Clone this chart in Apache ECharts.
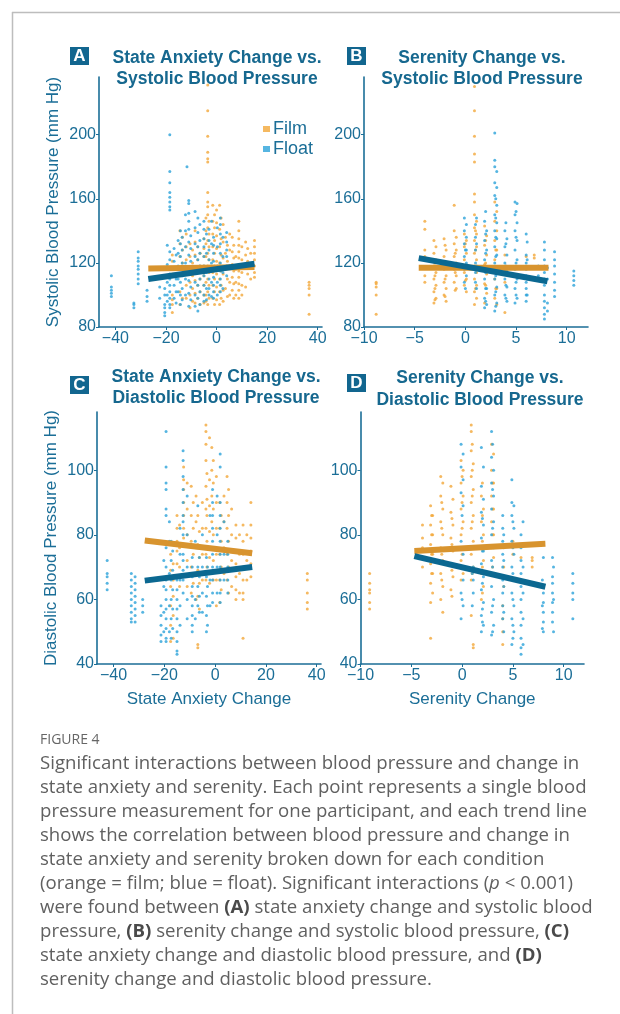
<!DOCTYPE html>
<html>
<head>
<meta charset="utf-8">
<script src="https://cdn.jsdelivr.net/npm/echarts@6/dist/echarts.min.js"></script>
<style>
  html, body { margin: 0; padding: 0; background: #fff; }
  #chart { width: 620px; height: 1014px; }
</style>
</head>
<body>
<div id="chart"></div>
<script>
// columns of points: [x, [y, y, ...]]
// A: state anxiety change vs systolic
const aFilm = [
  [-17.5, [125, 121, 117, 113, 100, 97, 94, 89]],
  [-14.5, [140, 132, 124, 102, 94]],
  [-13.5, [136, 128, 120, 98]],
  [-12, [138, 130, 122, 114, 106, 98]],
  [-10.5, [132, 124, 116, 108, 100, 92]],
  [-9.5, [128, 120, 112, 104, 96]],
  [-8.5, [140, 133, 125, 117, 109, 101, 95]],
  [-7.5, [130, 122, 114, 106, 98]],
  [-6.5, [126, 118, 110, 102, 94]],
  [-5, [135, 129, 124, 118, 112, 106, 100, 95]],
  [-4.2, [148, 140, 132, 124, 116, 108, 100, 96]],
  [-3.5, [231, 215, 199, 189, 185, 183, 164, 158, 155, 150, 142, 134, 126, 118, 110, 102, 94]],
  [-3, [146, 138, 130, 122, 114, 106, 98]],
  [-1.5, [156, 146, 138, 130, 122, 114, 106, 98]],
  [-0.8, [150, 142, 134, 126, 118, 110, 102, 94]],
  [0, [153, 145, 137, 129, 121, 113, 105, 97]],
  [1.2, [156, 141, 130, 120, 110, 102, 94]],
  [1.8, [148, 135, 125, 115, 106, 98]],
  [2.6, [144, 133, 123, 113, 103, 96]],
  [3.5, [136, 126, 116, 104]],
  [4.3, [131, 121, 110, 99]],
  [5.2, [138, 128, 118, 108, 100]],
  [6.2, [136, 127, 119, 111, 103]],
  [6.8, [131, 123, 115, 107, 98]],
  [7.6, [124, 116, 108, 100]],
  [8.8, [146, 140, 135, 131, 127, 123, 119, 115, 111, 107, 103, 98]],
  [10, [130, 122, 114, 106, 100]],
  [11.5, [133, 125, 117, 105]],
  [12.3, [129, 121, 113]],
  [13.5, [126, 118, 110]],
  [15, [134, 130, 126, 122, 118, 114, 111]],
  [36.6, [108, 106, 104, 100, 88]]
];
const aFloat = [
  [-41.6, [112, 105, 103, 101, 99]],
  [-32.7, [95, 94, 92]],
  [-31, [127, 123, 121, 118, 116, 113, 110, 107]],
  [-27.5, [103, 99, 96]],
  [-22.5, [105, 98]],
  [-20.5, [104, 100, 94, 92, 89, 87]],
  [-19.5, [131, 119, 108, 100, 96]],
  [-18.5, [200, 177, 170, 164, 161, 158, 155, 153, 127, 122, 117, 113, 110, 106, 102, 98, 94, 92]],
  [-16.8, [129, 121, 113, 106, 98]],
  [-16, [125, 117, 110, 102, 95]],
  [-15.2, [134, 126, 118, 110, 102]],
  [-14.3, [140, 132, 124, 116, 108, 100, 94]],
  [-13.6, [136, 128, 120, 112, 104, 97]],
  [-12.3, [150, 140, 130, 120, 110, 100]],
  [-11.7, [180]],
  [-11, [159, 157, 151, 146, 141, 133, 125, 117, 109, 101, 93]],
  [-10.2, [137, 129, 121, 113, 105, 97]],
  [-8.5, [152, 142, 132, 124, 116, 108, 100, 93]],
  [-7.4, [148, 139, 130, 122, 114, 106, 98, 90]],
  [-6.6, [144, 134, 126, 118, 110, 102, 94]],
  [-5, [146, 141, 135, 130, 124, 118, 112, 106, 100, 96]],
  [-4, [138, 126, 114, 104, 97]],
  [-3, [141, 134, 128, 122, 116, 110, 104, 100]],
  [-2, [146, 132, 120, 108, 99]],
  [-1.2, [136, 131, 126, 121, 116, 111, 106, 102, 98]],
  [0.3, [142, 130, 118, 108, 100]],
  [1.5, [148, 144, 138, 132, 126, 120, 115, 110, 106, 102]],
  [2.5, [136, 124, 114, 104]],
  [4, [139, 133, 128, 124, 118, 112]]
];
// B: serenity change vs systolic
const bFilm = [
  [-8.8, [108, 107, 105, 100, 88]],
  [-4, [146, 141, 128, 124, 117, 112, 108]],
  [-3.1, [134, 126, 118, 110, 102, 95]],
  [-3, [120, 112, 104, 97]],
  [-2.9, [130, 122, 114, 106, 98]],
  [-2.1, [135, 124, 116, 108, 100]],
  [-2, [131, 119, 110, 99]],
  [-1.9, [128, 120, 112, 104, 96]],
  [-1.1, [156, 140, 132, 124, 116, 108]],
  [-1, [126, 114, 103]],
  [-0.9, [136, 128, 120, 112, 104]],
  [-0.1, [138, 130, 122, 114, 106]],
  [0, [132, 118, 109]],
  [0.1, [134, 126, 118, 110, 102]],
  [0.9, [230, 215, 199, 188, 183, 163, 158, 150, 142, 134, 126, 118, 110, 102, 94]],
  [1, [140, 128, 116, 104]],
  [1.1, [146, 138, 130, 122, 114, 106, 98]],
  [1.9, [143, 131, 119, 107, 95]],
  [2, [134, 120, 106]],
  [2.1, [137, 125, 113, 101]],
  [2.9, [158, 146, 134, 122, 110, 98]],
  [3, [128, 116, 104]],
  [3.1, [152, 140, 128, 116, 104, 94]],
  [3.9, [125, 115, 108, 89]],
  [6, [124]],
  [6.8, [125, 123]]
];
const bFloat = [
  [-0.1, [148, 140, 132, 124, 116, 108]],
  [0, [128, 118, 104]],
  [0.1, [144, 136, 128, 120, 112]],
  [1, [144, 136, 128, 120, 114, 108]],
  [1.1, [148, 132, 118, 104]],
  [1.9, [146, 134, 122, 110, 98, 92]],
  [2, [152, 138, 126, 114, 104, 96]],
  [2.1, [140, 128, 116, 104, 94]],
  [2.9, [201, 184, 180, 170, 162, 150, 140, 130, 120, 110, 100, 90]],
  [3, [160, 148, 136, 124, 112, 102, 93]],
  [3.1, [177, 167, 156, 145, 135, 125, 115, 105, 95]],
  [3.9, [140, 130, 120, 110, 100]],
  [4, [145, 132, 118, 106, 98]],
  [4.1, [135, 125, 115, 105, 96]],
  [4.9, [158, 150, 140, 128, 116, 104, 95]],
  [5, [152, 136, 120, 108, 100]],
  [5.1, [157, 145, 134, 122, 110, 98]],
  [6, [138, 125, 120, 116, 112, 108, 104, 100, 96]],
  [6.1, [133, 122, 110, 100]],
  [7.2, [118, 112]],
  [7.8, [133, 128, 122, 118, 114, 110, 106, 100, 96, 92, 88, 85]],
  [8.1, [117, 110, 95, 90]],
  [8.8, [127, 122, 118, 113, 108, 103, 99]],
  [10.7, [115, 112, 109, 106]]
];
// C: state anxiety change vs diastolic
const cFilm = [
  [-17.5, [74, 69, 64, 58, 52, 47]],
  [-16.5, [71, 66, 61, 55, 48]],
  [-15, [86, 82, 78, 75, 71]],
  [-14, [83, 76, 70, 64]],
  [-12.4, [101, 97, 94, 90, 86, 82, 79]],
  [-11, [96, 88, 80, 72, 64]],
  [-9.4, [95, 86, 78, 70, 62]],
  [-8.6, [90, 82, 74, 65]],
  [-7.5, [92, 84, 76, 68, 60]],
  [-6.8, [86, 77, 69, 61, 46, 45]],
  [-6.2, [81, 73, 65, 57]],
  [-5, [90, 82, 74, 66]],
  [-3.6, [114, 112, 108, 103, 95, 88, 82, 74, 66]],
  [-3.2, [99, 91, 86, 78, 70]],
  [-2.2, [110, 97, 89, 81, 73, 65]],
  [-1.3, [107, 100, 92, 84, 76, 68]],
  [-0.7, [103, 96, 88, 80, 72, 66]],
  [0.5, [98, 90, 82, 74, 66, 58]],
  [1.8, [90, 82, 74, 66, 59]],
  [2.4, [86, 78, 70, 63]],
  [3.5, [92, 84, 76, 68]],
  [4.7, [98, 90, 82, 74, 66]],
  [5.3, [94, 86, 78, 70, 62]],
  [6.5, [88, 80, 72, 64]],
  [8.2, [83, 79, 75, 71, 67, 63, 60]],
  [9.6, [80, 74, 68, 62]],
  [11, [83, 78, 74, 70, 66, 62, 60, 48]],
  [12.5, [80, 72, 66]],
  [14.1, [90, 83, 79, 75, 71, 67]],
  [36.3, [68, 66, 62, 59, 57]]
];
const cFloat = [
  [-42.5, [72, 68, 67, 65, 63]],
  [-33, [68, 66, 64, 62, 60, 58, 56, 54, 53]],
  [-31.5, [67, 65, 63, 61, 59, 57, 55, 53]],
  [-28.5, [60, 58, 56]],
  [-21.3, [58, 55, 52, 49, 47]],
  [-20.2, [72, 64, 56, 50]],
  [-19.3, [112, 101, 96, 94, 88, 86, 76, 70, 66, 63, 60, 57, 54, 51, 48, 47]],
  [-18, [84, 78, 68, 58, 50]],
  [-17.3, [78, 72, 66, 60, 54, 48]],
  [-16.7, [75, 69, 63, 57, 51]],
  [-15, [66, 63, 60, 57, 54, 50, 47, 44, 43]],
  [-13.8, [82, 74, 66, 58, 52]],
  [-12.6, [106, 103, 98, 94, 90, 86, 84, 80, 77, 74, 72, 69, 66, 62]],
  [-11, [92, 80, 70, 60, 54]],
  [-9, [73, 70, 67, 64, 61, 58, 55, 52, 50]],
  [-7.8, [78, 68, 60, 54]],
  [-6.8, [89, 76, 70, 64, 58]],
  [-6.2, [73, 67, 61, 56]],
  [-5, [80, 70, 62, 56]],
  [-3.4, [73, 67, 61, 55, 50]],
  [-3, [70, 64, 58, 52]],
  [-2, [86, 76, 66, 58]],
  [-1, [94, 90, 86, 82, 78, 74, 70, 66, 62, 59]],
  [0.8, [92, 80, 70, 62]],
  [2, [105, 101, 90, 86, 82, 78, 74, 70, 66, 62, 59]],
  [3.5, [84, 74, 66]],
  [5, [78, 74, 70, 66, 62]]
];
// D: serenity change vs diastolic
const dFilm = [
  [-9.1, [68, 65, 63, 62, 59, 57]],
  [-3.9, [83, 79, 76, 73, 70]],
  [-3.1, [89, 83, 77, 71, 65, 59, 48]],
  [-3, [86, 80, 74, 68]],
  [-2.9, [86, 80, 74, 68, 62]],
  [-2.1, [98, 92, 84, 76, 68, 60]],
  [-2, [90, 82, 74, 66]],
  [-1.9, [96, 88, 80, 72, 64, 56]],
  [-1.1, [95, 87, 79, 71, 63]],
  [-1, [85, 77, 69, 61]],
  [-0.9, [91, 83, 75, 67]],
  [-0.1, [103, 96, 88, 80, 72, 66]],
  [0, [98, 90, 82, 74]],
  [0.1, [100, 92, 84, 76, 68]],
  [0.9, [114, 112, 106, 98, 90, 82, 74, 66, 55]],
  [1, [108, 100, 92, 84, 76, 68]],
  [1.1, [102, 94, 86, 78, 70, 46, 45]],
  [1.9, [92, 84, 76, 68, 60]],
  [2, [96, 86, 78, 70, 62]],
  [2.1, [88, 80, 72, 64]],
  [2.9, [108, 100, 92, 84, 76]],
  [3, [96, 88, 80, 70]],
  [3.1, [105, 96, 88, 80, 73]],
  [4, [58, 54, 50, 46]],
  [4.1, [76, 70, 64]],
  [5, [78, 74]],
  [5.8, [73]],
  [6.9, [73, 72, 70]]
];
const dFloat = [
  [-0.1, [108, 101, 93, 78, 70, 62, 54]],
  [0, [86, 70, 60]],
  [0.1, [105, 97, 89, 74, 66, 58]],
  [1, [76, 68, 58]],
  [1.1, [70, 66, 62]],
  [1.9, [107, 95, 87, 79, 71, 63, 55, 50]],
  [2, [85, 75, 65, 57, 53]],
  [2.1, [101, 91, 83, 75, 67, 59, 52]],
  [2.9, [112, 104, 96, 88, 80, 72, 64, 56, 49]],
  [3, [108, 94, 82, 70, 58, 50]],
  [3.1, [100, 92, 84, 76, 68, 60, 52]],
  [4, [86, 82, 78, 74, 70, 66, 62, 58, 54]],
  [4.1, [80, 72, 64, 56, 50]],
  [4.9, [97, 90, 86, 78, 70, 62, 54, 46]],
  [5, [84, 76, 68, 60, 52, 48]],
  [5.1, [89, 82, 74, 66, 58, 50]],
  [5.8, [80, 76, 72, 68, 64, 60, 56, 52, 48, 45, 43]],
  [6, [84, 70, 62, 54, 46]],
  [7.9, [66, 58, 51]],
  [8, [73, 62, 59, 56, 53, 50]],
  [8.9, [73, 67, 65, 62, 59, 56, 53]],
  [9, [70, 60, 50]],
  [10.9, [68, 65, 62, 60, 54]]
];
// trend lines (end points)
const aFilmTrend = [[-27, 116.5], [15, 117.5]];
const aFloatTrend = [[-27, 110], [15, 119.5]];
const bFilmTrend = [[-4.6, 117], [8.2, 117]];
const bFloatTrend = [[-4.6, 123], [8.1, 108.5]];
const cFilmTrend = [[-27.7, 78.2], [14.6, 74.3]];
const cFloatTrend = [[-27.7, 65.8], [14.6, 70]];
const dFilmTrend = [[-4.7, 75], [8.2, 77.2]];
const dFloatTrend = [[-4.7, 73.4], [8.2, 63.9]];

const anxietyTicks = [-40, -20, 0, 20, 40];
const serenityTicks = [-10, -5, 0, 5, 10];
const systolicTicks = [80, 120, 160, 200];
const diastolicTicks = [40, 60, 80, 100];

const captionLines = [
  'Significant interactions between blood pressure and change in',
  'state anxiety and serenity. Each point represents a single blood',
  'pressure measurement for one participant, and each trend line',
  'shows the correlation between blood pressure and change in',
  'state anxiety and serenity broken down for each condition',
  '(orange = film; blue = float). Significant interactions ({i|p} < 0.001)',
  'were found between {b|(A)} state anxiety change and systolic blood',
  'pressure, {b|(B)} serenity change and systolic blood pressure, {b|(C)}',
  'state anxiety change and diastolic blood pressure, and {b|(D)}',
  'serenity change and diastolic blood pressure.'
];

const AX = '#1b6e97';
const TITLE = '#16688f';
const FILM = '#f2a73a';
const FLOAT = '#2ca2d9';
const FILM_LINE = '#d8942f';
const FLOAT_LINE = '#0b6891';
const FONT = 'Liberation Sans, Arial, sans-serif';
const CAP_FONT = 'Open Sans, sans-serif';
const CAP_SIZE = 18.6;

const expand = cols => cols.flatMap(([x, ys]) => ys.map(y => [x, y]));
const fmt = v => (v < 0 ? '\u2212' + Math.abs(v) : String(v));

function xAxis(idx, min, max, ticks, name) {
  return {
    type: 'value', gridIndex: idx, min: min, max: max,
    name: name || '', nameLocation: 'middle', nameGap: 27,
    nameTextStyle: { color: AX, fontSize: 17, fontFamily: FONT },
    axisLine: { show: true, onZero: false, lineStyle: { color: AX, width: 1.6 } },
    axisTick: { show: true, length: 3, customValues: ticks, lineStyle: { color: AX } },
    axisLabel: { customValues: ticks, formatter: fmt, color: AX, fontSize: 16, fontFamily: FONT, margin: 4 },
    splitLine: { show: false }
  };
}
function yAxis(idx, min, max, ticks, name) {
  return {
    type: 'value', gridIndex: idx, min: min, max: max,
    name: name || '', nameLocation: 'middle', nameGap: 37, nameRotate: 90,
    nameTextStyle: { color: AX, fontSize: 17, fontFamily: FONT },
    axisLine: { show: true, onZero: false, lineStyle: { color: AX, width: 1.6 } },
    axisTick: { show: true, length: 3, customValues: ticks, lineStyle: { color: AX } },
    axisLabel: { customValues: ticks, color: AX, fontSize: 16, fontFamily: FONT, margin: 3 },
    splitLine: { show: false }
  };
}
function panelSeries(idx, film, float, filmTrend, floatTrend) {
  const sc = (name, data, color) => ({
    name: name, type: 'scatter', xAxisIndex: idx, yAxisIndex: idx,
    data: expand(data), symbolSize: 3, itemStyle: { color: color }, z: 2
  });
  const ln = (name, data, color, z) => ({
    name: name, type: 'line', xAxisIndex: idx, yAxisIndex: idx, data: data,
    symbol: 'none', lineStyle: { color: color, width: 6, cap: 'butt' }, z: z
  });
  return [
    sc('Film', film, FILM),
    sc('Float', float, FLOAT),
    ln('Film trend', filmTrend, FILM_LINE, 3),
    ln('Float trend', floatTrend, FLOAT_LINE, 4)
  ];
}

const graphics = [
  { type: 'line', shape: { x1: 12, y1: 12.5, x2: 620, y2: 12.5 }, style: { stroke: '#bdbdbd', lineWidth: 1.5 } },
  { type: 'line', shape: { x1: 12.5, y1: 12, x2: 12.5, y2: 1014 }, style: { stroke: '#bdbdbd', lineWidth: 1.5 } }
];
function tag(letter, x, y) {
  graphics.push({ type: 'rect', shape: { x: x, y: y, width: 19, height: 18 }, style: { fill: '#12668f' } });
  graphics.push({ type: 'text', style: { text: letter, x: x + 9.5, y: y + 9.5, align: 'center', verticalAlign: 'middle',
    fill: '#fff', font: 'bold 17px ' + FONT } });
}
function title(l1, l2, cx, y1, y2) {
  [[l1, y1], [l2, y2]].forEach(([t, y]) => graphics.push({ type: 'text', style: { text: t, x: cx, y: y,
    align: 'center', verticalAlign: 'middle', fill: TITLE, font: 'bold 17.5px ' + FONT } }));
}
tag('A', 70, 47); title('State Anxiety Change vs.', 'Systolic Blood Pressure', 217, 58, 79);
tag('B', 347, 47); title('Serenity Change vs.', 'Systolic Blood Pressure', 482, 58, 79);
tag('C', 70, 376); title('State Anxiety Change vs.', 'Diastolic Blood Pressure', 216, 377, 398);
tag('D', 347, 374); title('Serenity Change vs.', 'Diastolic Blood Pressure', 480, 378, 400);

graphics.push({ type: 'text', style: { text: 'FIGURE 4', x: 40, y: 740, verticalAlign: 'middle',
  fill: '#666', font: '14px ' + CAP_FONT } });
captionLines.forEach((t, i) => graphics.push({ type: 'text', style: {
  text: t, x: 40, y: 764 + i * 24, verticalAlign: 'middle', fill: '#606060',
  fontSize: CAP_SIZE, fontFamily: CAP_FONT,
  rich: {
    b: { fontWeight: 'bold', fill: '#4a4a4a', fontSize: CAP_SIZE, fontFamily: CAP_FONT },
    i: { fontStyle: 'italic', fill: '#606060', fontSize: CAP_SIZE, fontFamily: CAP_FONT }
  } } }));

const chart = echarts.init(document.getElementById('chart'), null, { renderer: 'canvas' });
chart.setOption({
  animation: false,
  backgroundColor: '#fff',
  textStyle: { fontFamily: FONT },
  legend: {
    data: ['Film', 'Float'], orient: 'vertical', left: 258, top: 114,
    icon: 'rect', itemWidth: 7, itemHeight: 6, itemGap: 0,
    textStyle: { color: AX, fontSize: 18, fontFamily: FONT, lineHeight: 20, padding: [0, 0, 0, -2] },
    selectedMode: false
  },
  grid: [
    { left: 99, top: 77, width: 223, height: 250 },
    { left: 364, top: 77, width: 224, height: 250 },
    { left: 97, top: 412, width: 224, height: 252 },
    { left: 360.5, top: 412, width: 223.5, height: 252 }
  ],
  xAxis: [
    xAxis(0, -46.5, 41.7, anxietyTicks),
    xAxis(1, -10, 12.1, serenityTicks),
    xAxis(2, -46.5, 41.7, anxietyTicks, 'State Anxiety Change'),
    xAxis(3, -10, 12, serenityTicks, 'Serenity Change')
  ],
  yAxis: [
    yAxis(0, 80, 236, systolicTicks, 'Systolic Blood Pressure (mm Hg)'),
    yAxis(1, 80, 236, systolicTicks),
    yAxis(2, 40, 118, diastolicTicks, 'Diastolic Blood Pressure (mm Hg)'),
    yAxis(3, 40, 118, diastolicTicks)
  ],
  series: [].concat(
    panelSeries(0, aFilm, aFloat, aFilmTrend, aFloatTrend),
    panelSeries(1, bFilm, bFloat, bFilmTrend, bFloatTrend),
    panelSeries(2, cFilm, cFloat, cFilmTrend, cFloatTrend),
    panelSeries(3, dFilm, dFloat, dFilmTrend, dFloatTrend)
  ),
  graphic: graphics
});
</script>
</body>
</html>
